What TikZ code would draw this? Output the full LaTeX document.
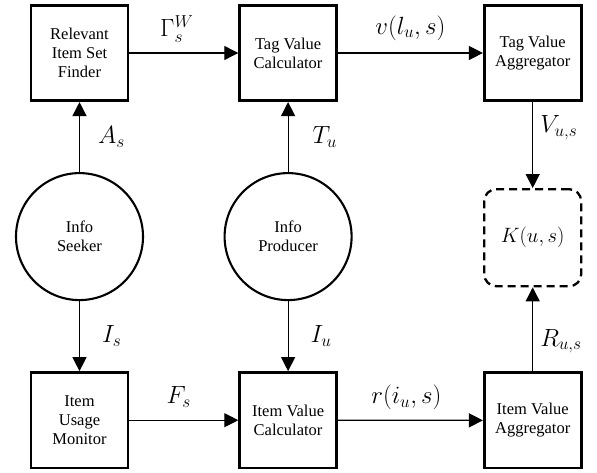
\documentclass[tikz,border=0pt]{standalone}
\usepackage{fontspec}
\setmainfont{Liberation Serif}
\usetikzlibrary{arrows.meta,positioning}

\begin{document}
\begin{tikzpicture}[
  x=1pt,y=1pt,
  font=\fontsize{16.5}{19}\selectfont,
  box/.style={draw,line width=2.6pt,align=center,
              minimum width=97pt,minimum height=95.5pt,inner sep=2pt},
  circ/.style={circle,draw,line width=2.1pt,align=center,
               minimum size=127pt,inner sep=0pt},
  kbox/.style={draw,line width=2.3pt,dash pattern=on 8pt off 5pt,
               rounded corners=12pt,minimum size=97pt,
               font=\fontsize{20}{24}\selectfont},
  arr/.style={-{Triangle[length=14pt,width=14pt]},line width=1.2pt},
  lbl/.style={font=\fontsize{26}{30}\selectfont,inner sep=0pt},
  ]
  \useasboundingbox (0,0) rectangle (597,-473);
  % top row
  \node[box] (finder) at (79.5,-53) {Relevant\\Item Set\\Finder};
  \node[box,right=109pt of finder]  (tagcalc) {Tag Value\\Calculator};
  \node[box,right=145pt of tagcalc] (tagagg)  {Tag Value\\Aggregator};
  % middle row
  \node[circ,below=70pt of finder]  (seeker)   {Info\\Seeker};
  \node[circ,below=70pt of tagcalc] (producer) {Info\\Producer};
  \node[kbox,below=86pt of tagagg]  (kfun)     {$K(u,s)$};
  % bottom row
  \node[box,below=70pt of seeker]   (usage)   {Item\\Usage\\Monitor};
  \node[box,below=70pt of producer] (itemcalc) {Item Value\\Calculator};
  \node[box,below=84pt of kfun]     (itemagg)  {Item Value\\Aggregator};
  % connectors
  \draw[arr] (finder)   -- node[lbl,above=10pt,xshift=-7pt] {$\Gamma^{W}_{s}$} (tagcalc);
  \draw[arr] (tagcalc)  -- node[lbl,above=12pt] {$v(l_u,s)$} (tagagg);
  \draw[arr] (seeker)   -- node[lbl,right=18pt] {$A_s$} (finder);
  \draw[arr] (producer) -- node[lbl,right=24pt] {$T_u$} (tagcalc);
  \draw[arr] (tagagg)   -- node[lbl,right=7pt,pos=0.3] {$V_{u,s}$} (kfun);
  \draw[arr] (seeker)   -- node[lbl,right=22pt] {$I_s$} (usage);
  \draw[arr] (producer) -- node[lbl,right=22pt] {$I_u$} (itemcalc);
  \draw[arr] (itemagg)  -- node[lbl,right=7pt,pos=0.36] {$R_{u,s}$} (kfun);
  \draw[arr] (usage)    -- node[lbl,above=12pt,xshift=-5pt] {$F_s$} (itemcalc);
  \draw[arr] (itemcalc) -- node[lbl,above=10pt,xshift=-4pt] {$r(i_u,s)$} (itemagg);
\end{tikzpicture}
\end{document}
